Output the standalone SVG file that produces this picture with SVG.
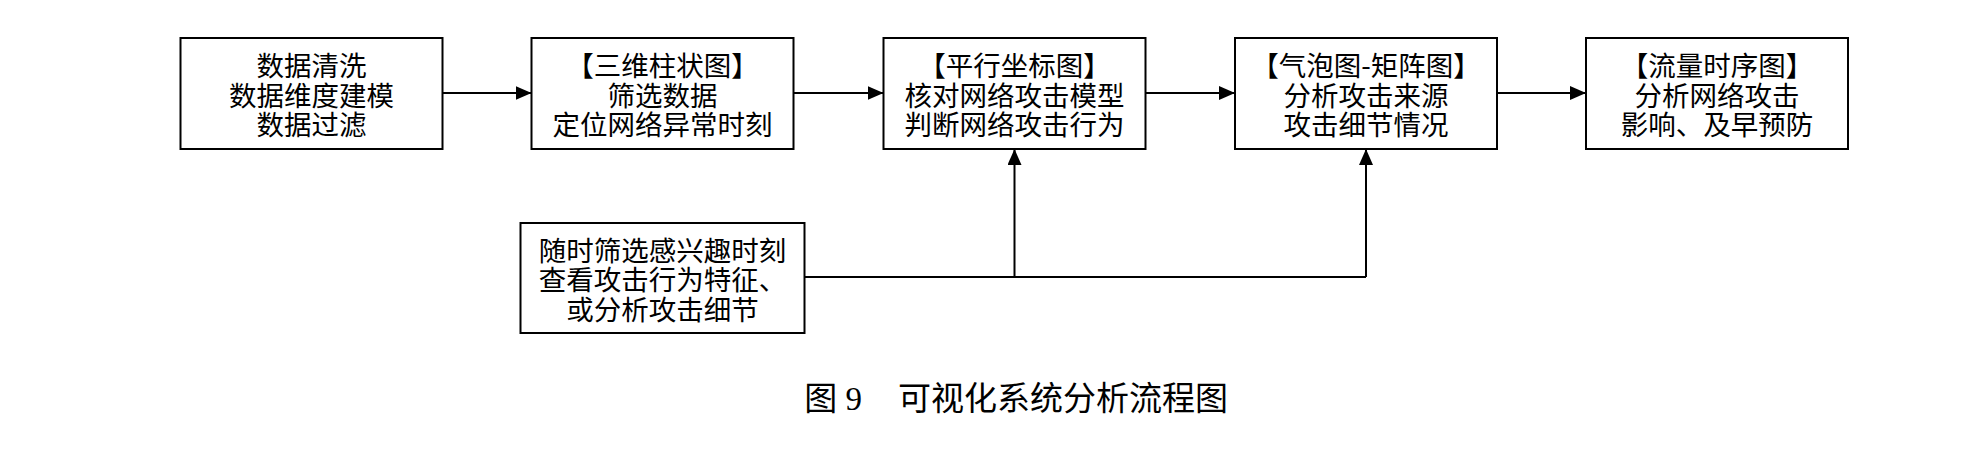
<svg xmlns="http://www.w3.org/2000/svg" width="1966" height="450" viewBox="0 0 1966 450">
<style>
.box{fill:#fff;stroke:#000;stroke-width:2}
.t{font-family:"Noto Sans CJK SC","Noto Sans CJK JP",sans-serif;font-size:27.5px;fill:#000;text-anchor:middle;dominant-baseline:central}
.ln{fill:none;stroke:#000;stroke-width:2}
.cap{font-family:"Liberation Serif","Noto Sans CJK SC",serif;font-size:33px;fill:#000;text-anchor:middle;dominant-baseline:central}
</style>
<defs>
<marker id="ah" viewBox="0 0 16 14" refX="16" refY="7" markerWidth="16" markerHeight="14" markerUnits="userSpaceOnUse" orient="auto">
<path d="M0,0 L16,7 L0,14 Z" fill="#000"/>
</marker>
</defs>
<rect width="1966" height="450" fill="#fff"/>
<g id="n1"><rect class="box" x="180.5" y="38" width="262" height="111"/>
<text class="t"><tspan x="311.5" y="64">数据清洗</tspan><tspan x="311.5" y="93.5">数据维度建模</tspan><tspan x="311.5" y="123">数据过滤</tspan></text></g>
<g id="n2"><rect class="box" x="531.5" y="38" width="262" height="111"/>
<text class="t"><tspan x="662.5" y="64">【三维柱状图】</tspan><tspan x="662.5" y="93.5">筛选数据</tspan><tspan x="662.5" y="123">定位网络异常时刻</tspan></text></g>
<g id="n3"><rect class="box" x="883.5" y="38" width="262" height="111"/>
<text class="t"><tspan x="1014.5" y="64">【平行坐标图】</tspan><tspan x="1014.5" y="93.5">核对网络攻击模型</tspan><tspan x="1014.5" y="123">判断网络攻击行为</tspan></text></g>
<g id="n4"><rect class="box" x="1235" y="38" width="262" height="111"/>
<text class="t"><tspan x="1366" y="64">【气泡图-矩阵图】</tspan><tspan x="1366" y="93.5">分析攻击来源</tspan><tspan x="1366" y="123">攻击细节情况</tspan></text></g>
<g id="n5"><rect class="box" x="1586" y="38" width="262" height="111"/>
<text class="t"><tspan x="1717" y="64">【流量时序图】</tspan><tspan x="1717" y="93.5">分析网络攻击</tspan><tspan x="1717" y="123">影响、及早预防</tspan></text></g>
<g id="n6"><rect class="box" x="520.5" y="223" width="284" height="110"/>
<text class="t"><tspan x="662.5" y="248.5">随时筛选感兴趣时刻</tspan><tspan x="662.5" y="278">查看攻击行为特征、</tspan><tspan x="662.5" y="308">或分析攻击细节</tspan></text></g>
<g id="connectors">
<line class="ln" x1="442.5" y1="93" x2="531.5" y2="93" marker-end="url(#ah)"/>
<line class="ln" x1="793.5" y1="93" x2="883.5" y2="93" marker-end="url(#ah)"/>
<line class="ln" x1="1145.5" y1="93" x2="1235" y2="93" marker-end="url(#ah)"/>
<line class="ln" x1="1497" y1="93" x2="1586" y2="93" marker-end="url(#ah)"/>
<polyline class="ln" points="804.5,277 1366,277"/>
<line class="ln" x1="1014.5" y1="277" x2="1014.5" y2="149" marker-end="url(#ah)"/>
<line class="ln" x1="1366" y1="277" x2="1366" y2="149" marker-end="url(#ah)"/>
</g>
<text class="cap" x="1016" y="399"><tspan>图 9</tspan><tspan dx="36">可视化系统分析流程图</tspan></text>
</svg>
